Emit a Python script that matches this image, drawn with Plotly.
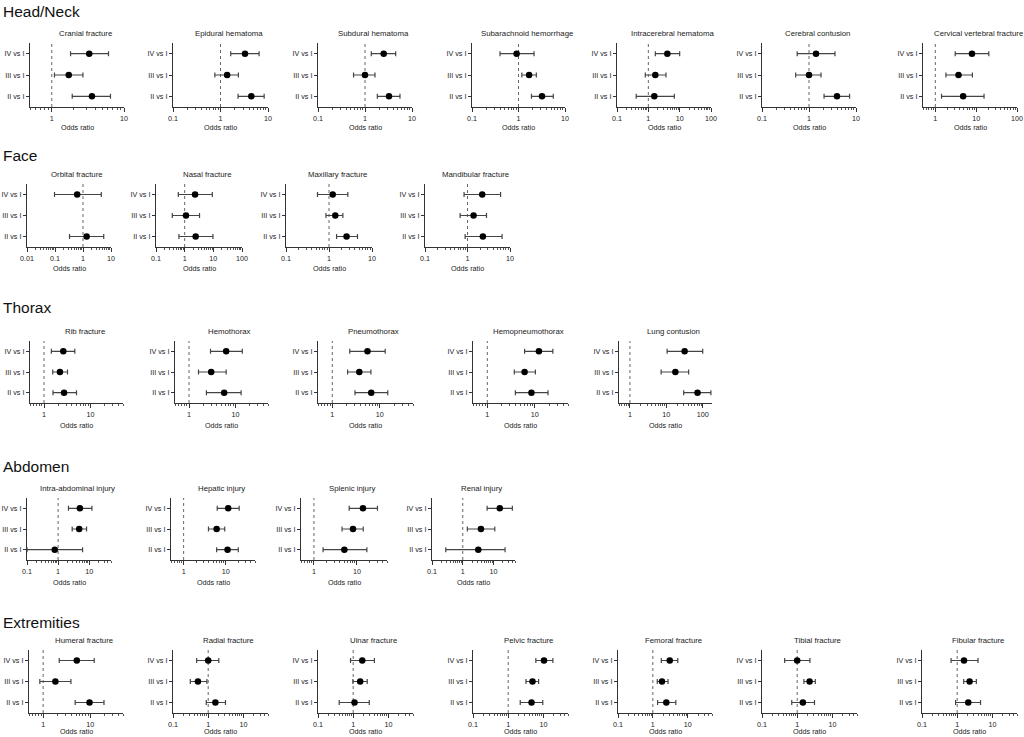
import math
import plotly.graph_objects as go

W, H = 1024, 737
FONT = "Arial, Liberation Sans, sans-serif"

COMPARISONS = ["II vs I", "III vs I", "IV vs I"]
REF_OR = 1.0

SECTIONS = ["Head/Neck", "Face", "Thorax", "Abdomen", "Extremities"]

# odds ratios and 95% CI, each inner list is [II vs I, III vs I, IV vs I]
HEAD_NAMES = ["Cranial fracture", "Epidural hematoma", "Subdural hematoma",
              "Subarachnoid hemorrhage", "Intracerebral hematoma",
              "Cerebral contusion", "Cervical vertebral fracture"]
HEAD_OR = [[3.6, 1.72, 3.3], [4.45, 1.38, 3.28], [3.24, 1.0, 2.5], [3.2, 1.69, 0.91],
           [1.55, 1.67, 4.04], [3.94, 1.0, 1.41], [4.8, 3.7, 7.9]]
HEAD_LO = [[1.92, 1.09, 1.82], [2.34, 0.76, 1.64], [1.83, 0.57, 1.36], [1.9, 1.18, 0.40],
           [0.41, 0.80, 1.67], [2.09, 0.52, 0.56], [1.42, 1.82, 3.07]]
HEAD_HI = [[6.5, 2.7, 6.1], [8.3, 2.38, 6.5], [5.55, 1.63, 4.5], [5.6, 2.42, 2.16],
           [6.76, 3.66, 10.0], [7.3, 1.8, 3.57], [15.6, 8.1, 20.4]]

FACE_NAMES = ["Orbital fracture", "Nasal fracture", "Maxillary fracture", "Mandibular fracture"]
FACE_OR = [[1.35, None, 0.62], [2.42, 1.11, 2.3], [2.56, 1.4, 1.22], [2.3, 1.39, 2.22]]
FACE_LO = [[0.33, None, 0.096], [0.63, 0.37, 0.6], [1.5, 0.85, 0.54], [0.88, 0.67, 0.83]]
FACE_HI = [[5.5, None, 4.5], [9.7, 3.3, 9.2], [4.6, 2.1, 2.74], [6.5, 2.8, 6.0]]

THORAX_NAMES = ["Rib fracture", "Hemothorax", "Pneumothorax", "Hemopneumothorax", "Lung contusion"]
THORAX_OR = [[2.7, 2.2, 2.6], [5.7, 3.0, 6.3], [6.6, 3.7, 5.5], [8.5, 6.1, 12.2], [72, 17.7, 31.8]]
THORAX_LO = [[1.56, 1.54, 1.44], [2.37, 1.6, 2.9], [3.0, 2.1, 2.33], [3.9, 3.7, 6.1], [30, 7.2, 10.5]]
THORAX_HI = [[5.0, 3.2, 4.6], [13.2, 6.3, 14], [14.7, 6.5, 13], [19, 10.3, 24], [168, 41, 100]]

ABDOMEN_NAMES = ["Intra-abdominal injury", "Hepatic injury", "Splenic injury", "Renal injury"]
ABDOMEN_OR = [[0.78, 4.76, 5.0], [11.1, 6.1, 11.5], [5.1, 8.1, 13.8], [3.2, 3.9, 16]]
ABDOMEN_LO = [[0.1, 2.83, 2.15], [6.1, 3.9, 6.3], [1.63, 4.5, 6.6], [0.28, 1.41, 6.2]]
ABDOMEN_HI = [[6.1, 8.2, 12.2], [20, 9.5, 21], [17, 14, 30], [23.8, 11, 41]]

EXTREM_NAMES = ["Humeral fracture", "Radial fracture", "Ulnar fracture", "Pelvic fracture",
                "Femoral fracture", "Tibial fracture", "Fibular fracture"]
EXTREM_OR = [[9.7, 1.82, 5.2], [1.6, 0.51, 1.0], [1.09, 1.58, 1.81], [4.6, 4.9, 10.4],
             [2.44, 1.83, 3.06], [1.45, 2.25, 1.0], [2.06, 2.25, 1.56]]
EXTREM_LO = [[4.8, 0.85, 2.2], [0.88, 0.31, 0.47], [0.4, 0.98, 0.84], [2.2, 3.2, 6.1],
             [1.37, 1.34, 1.75], [0.70, 1.55, 0.44], [0.9, 1.53, 0.67]]
EXTREM_HI = [[19.7, 3.9, 12.2], [3.1, 0.92, 2.0], [2.86, 2.5, 4.0], [9.6, 7.3, 18.6],
             [4.57, 2.73, 5.2], [3.1, 3.27, 2.3], [4.6, 3.5, 3.9]]

# panel placement (pixels) and x-axis ranges
HEAD_X = [(30, 124), (173, 268), (318, 412), (472, 565), (617, 711), (762, 856), (923, 1017)]
HEAD_RANGE = [(0.5, 10), (0.1, 10), (0.1, 10), (0.1, 10), (0.1, 100), (0.1, 10), (0.5, 100)]
FACE_X = [(27, 111), (156, 242), (286, 372), (425, 510)]
FACE_RANGE = [(0.01, 10), (0.1, 100), (0.1, 10), (0.1, 10)]
THORAX_X = [(30, 123), (175, 268), (318, 413), (473, 568), (619, 712)]
THORAX_RANGE = [(0.5, 50), (0.5, 50), (0.5, 50), (0.5, 50), (0.5, 180)]
ABDOMEN_X = [(27, 111), (171, 255), (301, 387), (432, 515)]
ABDOMEN_RANGE = [(0.1, 50), (0.5, 50), (0.5, 50), (0.1, 50)]
EXTREM_X = [(29, 123), (173, 268), (318, 413), (473, 568), (618, 712), (762, 857), (922, 1017)]
EXTREM_RANGE = [(0.5, 50), (0.1, 50), (0.1, 50), (0.1, 50), (0.1, 50), (0.1, 50), (0.1, 50)]

ROW_Y = [(43, 107), (184, 247), (341, 403), (498, 560), (650, 713)]
ROW_TITLE_Y = [33, 174, 331, 488, 640]
ROW_SECTION_Y = [11, 155, 307, 466, 622]
ROW_XLABEL_Y = [127, 268, 425, 582, 731]

rows = [
    (HEAD_NAMES, HEAD_OR, HEAD_LO, HEAD_HI, HEAD_X, HEAD_RANGE),
    (FACE_NAMES, FACE_OR, FACE_LO, FACE_HI, FACE_X, FACE_RANGE),
    (THORAX_NAMES, THORAX_OR, THORAX_LO, THORAX_HI, THORAX_X, THORAX_RANGE),
    (ABDOMEN_NAMES, ABDOMEN_OR, ABDOMEN_LO, ABDOMEN_HI, ABDOMEN_X, ABDOMEN_RANGE),
    (EXTREM_NAMES, EXTREM_OR, EXTREM_LO, EXTREM_HI, EXTREM_X, EXTREM_RANGE),
]


def log_ticks(lo, hi):
    major, minor = [], []
    for d in range(math.floor(math.log10(lo)) - 1, math.ceil(math.log10(hi)) + 1):
        for k in range(1, 10):
            v = k * 10 ** d
            if lo * 0.999 <= v <= hi * 1.001:
                (major if k == 1 else minor).append(v)
    return major, minor


def px(x):
    return x / W


def py(y):
    return 1 - y / H


fig = go.Figure()
annotations = []
axis_layout = {}
ypos = list(range(len(COMPARISONS)))
n = 0

for r, (names, ors, los, his, xs, ranges) in enumerate(rows):
    yt, yb = ROW_Y[r]
    annotations.append(dict(text=SECTIONS[r], x=px(1), y=py(ROW_SECTION_Y[r]), xref="paper",
                            yref="paper", xanchor="left", yanchor="middle", showarrow=False,
                            font=dict(size=15.5, color="#111", family=FONT)))
    for i, name in enumerate(names):
        n += 1
        sx = "" if n == 1 else str(n)
        xl, xr = xs[i]
        lo_r, hi_r = ranges[i]
        major, minor = log_ticks(lo_r, hi_r)

        axis_layout["xaxis" + sx] = dict(
            type="log", range=[math.log10(lo_r), math.log10(hi_r)],
            domain=[px(xl), px(xr)], anchor="y" + sx, automargin=False,
            showline=True, linecolor="#333", linewidth=1.3, mirror=False,
            ticks="outside", ticklen=4, tickwidth=1, tickcolor="#333",
            tickvals=major, ticktext=[f"{v:g}" for v in major],
            tickfont=dict(size=7.2, color="#222", family=FONT),
            minor=dict(tickvals=minor, ticks="outside", ticklen=2, tickwidth=0.8,
                       tickcolor="#555", showgrid=False),
            showgrid=False, zeroline=False, fixedrange=True,
        )
        axis_layout["yaxis" + sx] = dict(
            range=[-0.5, 2.5], domain=[py(yb), py(yt)], anchor="x" + sx, automargin=False,
            showline=True, linecolor="#333", linewidth=1.3,
            ticks="outside", ticklen=3, tickwidth=1, tickcolor="#333",
            tickvals=ypos, ticktext=COMPARISONS,
            tickfont=dict(size=7.2, color="#222", family=FONT),
            showgrid=False, zeroline=False, fixedrange=True,
        )

        # reference line at OR = 1
        fig.add_trace(go.Scatter(
            x=[REF_OR, REF_OR], y=[-0.5, 2.5], mode="lines",
            line=dict(color="#666", width=1, dash="dot"),
            xaxis="x" + sx, yaxis="y" + sx, hoverinfo="skip", showlegend=False))

        o, l, h = ors[i], los[i], his[i]
        plus = [None if v is None else h[k] - v for k, v in enumerate(o)]
        minus = [None if v is None else v - l[k] for k, v in enumerate(o)]
        fig.add_trace(go.Scatter(
            x=o, y=ypos, mode="markers",
            marker=dict(color="black", size=6.5),
            error_x=dict(type="data", symmetric=False, array=plus, arrayminus=minus,
                         color="#444", thickness=1.2, width=2.5),
            xaxis="x" + sx, yaxis="y" + sx, name=name, showlegend=False))

        annotations.append(dict(text=name, x=px((xl + xr) / 2 + 8), y=py(ROW_TITLE_Y[r]),
                                xref="paper", yref="paper", xanchor="center", yanchor="middle",
                                showarrow=False, font=dict(size=7.8, color="#222", family=FONT)))
        annotations.append(dict(text="Odds ratio", x=px((xl + xr) / 2), y=py(ROW_XLABEL_Y[r]),
                                xref="paper", yref="paper", xanchor="center", yanchor="middle",
                                showarrow=False, font=dict(size=7.2, color="#222", family=FONT)))

fig.update_layout(
    width=W, height=H, autosize=False,
    margin=dict(l=0, r=0, t=0, b=0, autoexpand=False),
    paper_bgcolor="white", plot_bgcolor="white",
    font=dict(family=FONT, color="#222"),
    annotations=annotations,
    **axis_layout,
)
fig.write_html("out.html", config={"displayModeBar": False},
               post_script="document.body.style.margin='0px';")
